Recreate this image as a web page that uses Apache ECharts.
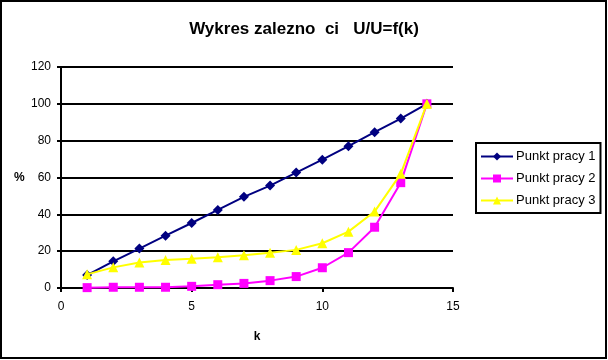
<!DOCTYPE html>
<html>
<head>
<meta charset="utf-8">
<script src="https://cdn.jsdelivr.net/npm/echarts@6/dist/echarts.min.js"></script>
<style>html,body{margin:0;padding:0;background:#fff}#c{width:608px;height:360px}</style>
</head>
<body>
<div id="c"></div>
<script>
var kValues = [1,2,3,4,5,6,7,8,9,10,11,12,13,14];
var punkt1 = [7,14.5,21.4,28.4,35.3,42.4,49.5,55.6,62.7,69.7,77,84.6,92,100];
var punkt2 = [0.2,0.4,0.4,0.4,0.9,1.8,2.5,4,6.2,11,19.2,33,57.2,100];
var punkt3 = [7.4,11.2,13.8,15.2,15.9,16.7,17.8,19.2,20.7,24.3,30.6,41.5,62,100];
var seriesNames = ['Punkt pracy 1','Punkt pracy 2','Punkt pracy 3'];
var xTicks = [0,5,10,15];
var yTicks = [0,20,40,60,80,100,120];

function pairs(vals){ return kValues.map(function(k,i){ return [k, vals[i]]; }); }

var font = 'Liberation Sans, Arial, sans-serif';
var chart = echarts.init(document.getElementById('c'), null, {renderer:'canvas'});
chart.setOption({
  animation:false,
  backgroundColor:'#fff',
  title:{
    text:'Wykres zalezno  ci   U/U=f(k)',
    left:299, top:16, textAlign:'center',
    textStyle:{fontFamily:font, fontSize:17, fontWeight:'bold', color:'#000'}
  },
  graphic:[{
    type:'rect', shape:{x:1,y:1,width:605,height:357},
    style:{fill:'none', stroke:'#000', lineWidth:2}, z:100
  },{
    type:'text', left:14, top:172,
    style:{text:'%', font:'bold 12px ' + font, fill:'#000'}
  }],
  legend:{
    orient:'vertical', left:476, top:143,
    data:seriesNames,
    itemWidth:32, itemHeight:10, itemGap:9,
    padding:[7,5,6,4],
    borderColor:'#000', borderWidth:2,
    textStyle:{fontFamily:font, fontSize:13, color:'#000', padding:[0,0,0,-2]}
  },
  grid:{left:61, right:155, top:67, bottom:72},
  xAxis:{
    type:'value', min:0, max:15, interval:5,
    name:'k', nameLocation:'middle', nameGap:43,
    nameTextStyle:{fontFamily:font, fontSize:12, fontWeight:'bold', color:'#000'},
    axisLine:{show:true, lineStyle:{color:'#000', width:2}},
    axisTick:{show:true, length:4, lineStyle:{color:'#000', width:2}},
    axisLabel:{fontFamily:font, fontSize:12, color:'#000', margin:13,
      formatter:function(v){ return xTicks.indexOf(v)>=0 ? String(v) : ''; }},
    splitLine:{show:false}
  },
  yAxis:{
    type:'value', min:0, max:120, interval:20,
    axisLine:{show:true, lineStyle:{color:'#000', width:2}},
    axisTick:{show:true, length:4, lineStyle:{color:'#000', width:2}},
    axisLabel:{fontFamily:font, fontSize:12, color:'#000', margin:10,
      formatter:function(v){ return yTicks.indexOf(v)>=0 ? String(v) : ''; }},
    splitLine:{show:true, lineStyle:{color:'#000', width:2}}
  },
  series:[
    {name:seriesNames[0], type:'line', data:pairs(punkt1), symbol:'diamond', symbolSize:10,
     lineStyle:{color:'#000080', width:2}, itemStyle:{color:'#000080'}, z:3},
    {name:seriesNames[1], type:'line', data:pairs(punkt2), symbol:'rect', symbolSize:9,
     lineStyle:{color:'#FF00FF', width:2}, itemStyle:{color:'#FF00FF'}, z:4},
    {name:seriesNames[2], type:'line', data:pairs(punkt3), symbol:'triangle', symbolSize:10,
     lineStyle:{color:'#FFFF00', width:2}, itemStyle:{color:'#FFFF00'}, z:5}
  ]
});
</script>
</body>
</html>
